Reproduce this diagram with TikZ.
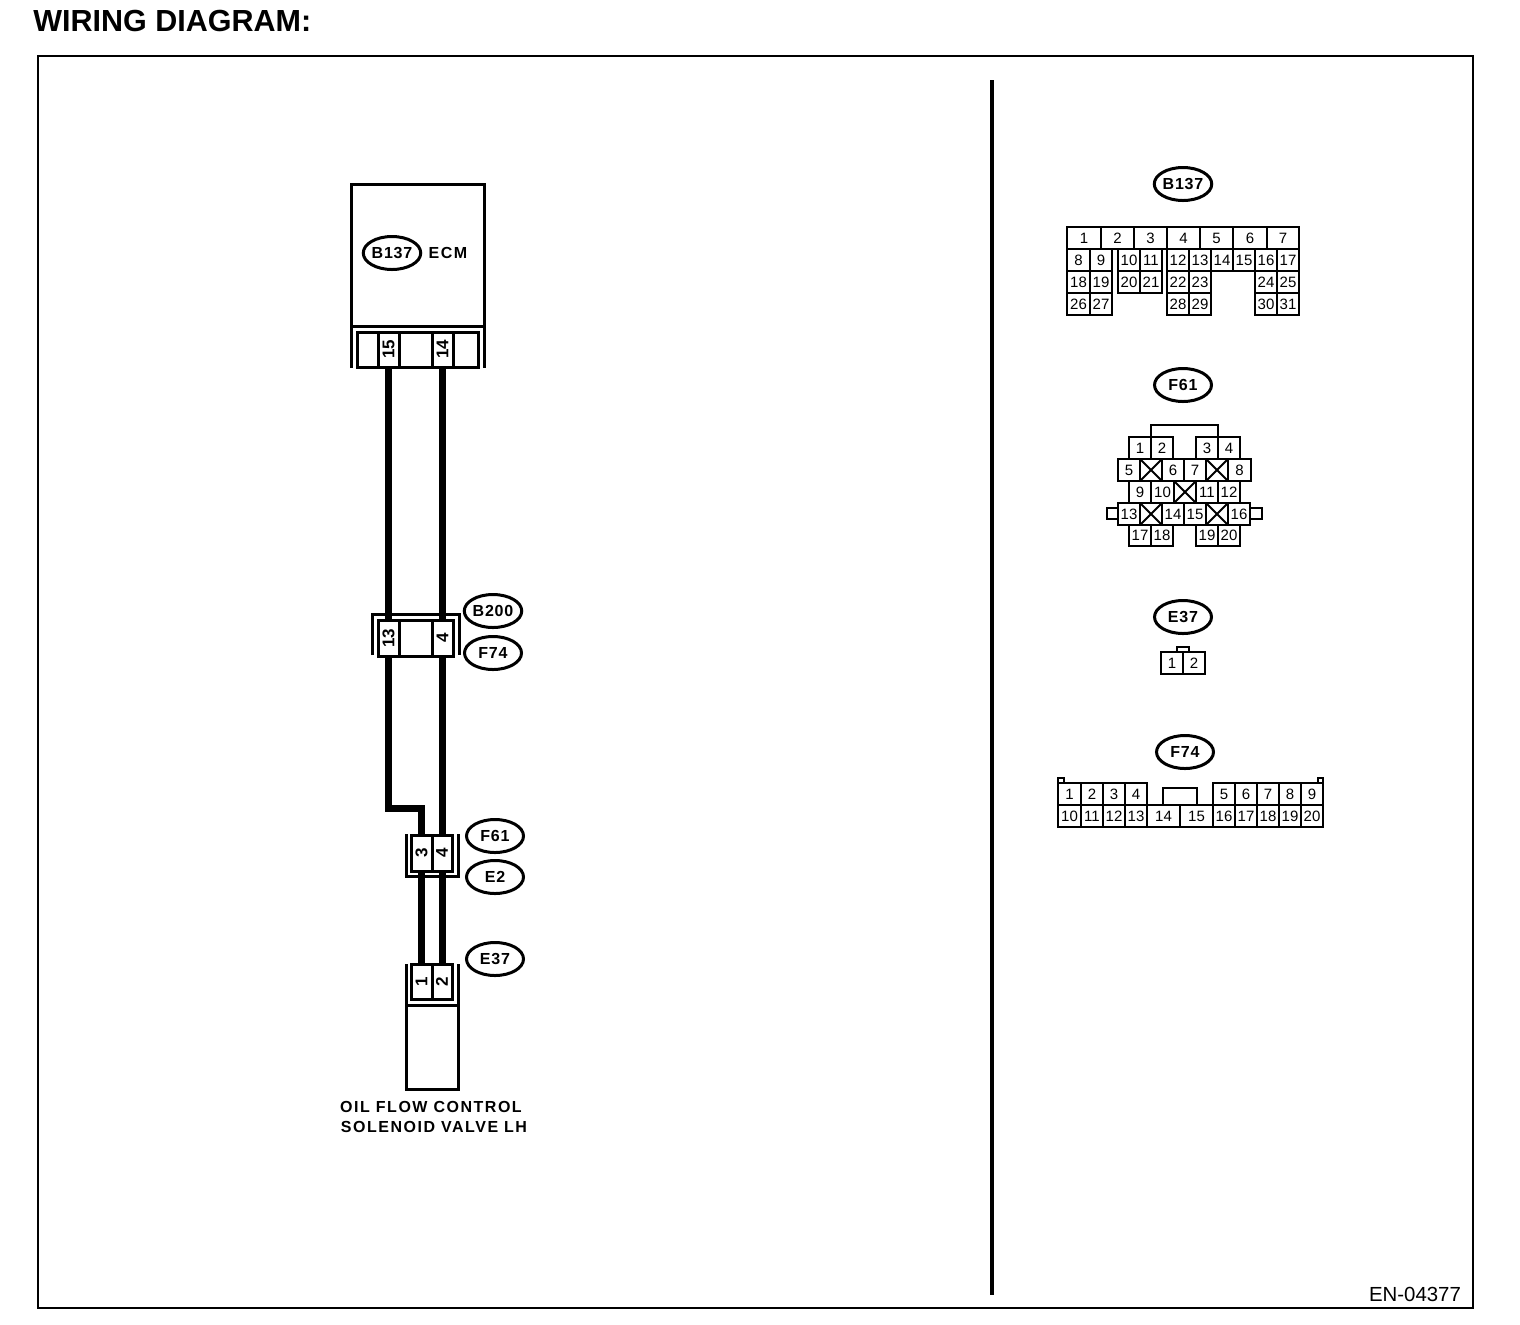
\documentclass[tikz,border=0pt]{standalone}
\usepackage{fontspec}
\usepackage{graphicx}
\setmainfont{Liberation Sans}
\newfontfamily\tagfont[LetterSpace=5]{Liberation Sans}
\newfontfamily\capfont[LetterSpace=9.5]{Liberation Sans}
\usetikzlibrary{shapes.geometric,shapes.misc}
\tikzset{
  box/.style={draw,rectangle,inner sep=0pt,outer sep=0pt,line width=1pt,fill=white,font=\fontsize{7.5}{8}\selectfont},
  heavybox/.style={box,line width=1.5pt,font=\bfseries\fontsize{8.5}{9}\selectfont},
  crossbox/.style={box,cross out},
  tag/.style={draw,ellipse,inner sep=0pt,outer sep=0pt,line width=1.5pt,minimum width=28.5pt,minimum height=16.5pt,font=\tagfont\bfseries\fontsize{8}{9}\selectfont},
  wire/.style={line width=3.5pt,line join=miter},
  rail/.style={line width=1.5pt},
  hood/.style={line width=1pt},
  caption/.style={inner sep=0pt,font=\capfont\bfseries\fontsize{8}{9}\selectfont}
}
% \cell[style]{name}{x0}{y0}{x1}{y1}{text}
\newcommand\cell[7][box]{%
  \pgfmathsetmacro\cw{(#5-#3)*0.5}%
  \pgfmathsetmacro\ch{(#6-#4)*0.5}%
  \pgfmathsetmacro\cx{(#3+#5)/2}%
  \pgfmathsetmacro\cy{(#4+#6)/2}%
  \node[#1,minimum width=\cw pt,minimum height=\ch pt] (#2) at (\cx,\cy) {#7};%
}
\newcommand\vnum[1]{\rotatebox{90}{#1}}
\begin{document}
\begin{tikzpicture}[x=0.5pt,y=-0.5pt]
\useasboundingbox (0,0) rectangle (1520,1324);
\node[anchor=base west,inner sep=0pt,font=\bfseries\fontsize{15.25}{16}\selectfont] (title) at (33,31) {WIRING DIAGRAM:};
\cell[draw,rectangle,line width=1pt,inner sep=0pt,outer sep=0pt]{frame}{38}{56}{1473}{1308}{}
\coordinate (divtop) at (992,80);
\coordinate (divbot) at (992,1295);
\draw[line width=2pt] (divtop) -- (divbot);
\node[inner sep=0pt,font=\fontsize{10.2}{11}\selectfont] (code) at (1415,1294) {EN-04377};

% --- ECM
\cell[box,line width=1.5pt]{ecm}{351}{184}{484}{326}{}
\draw[rail] (ecm.south west) -- ++(0,42);
\draw[rail] (ecm.south east) -- ++(0,42);
\cell[heavybox]{ecma}{357}{332}{378}{367}{}
\cell[heavybox]{ecm15}{378}{332}{399}{367}{\vnum{15}}
\cell[heavybox]{ecmb}{399}{332}{432}{367}{}
\cell[heavybox]{ecm14}{432}{332}{453}{367}{\vnum{14}}
\cell[heavybox]{ecmc}{453}{332}{478}{367}{}
\node[tag] (tagecm) at (392,253) {B137};
\node[caption] (ecmtext) at (448,253) {ECM};

% --- B200 / F74
\cell[box,draw=none]{b200o}{372}{614}{459}{655}{}
\draw[rail] (b200o.south west) -- (b200o.north west) -- (b200o.north east) -- (b200o.south east);
\cell[heavybox]{b13}{378}{620}{399}{656}{\vnum{13}}
\cell[heavybox]{bm}{399}{620}{432}{656}{}
\cell[heavybox]{b4}{432}{620}{453}{656}{\vnum{4}}
\node[tag] (tagb200) at (493,611) {B200};
\node[tag] (tagf74) at (493,653) {F74};

% --- F61 / E2
\cell[box,draw=none]{f61o}{406}{834}{458}{876}{}
\draw[rail] (f61o.north west) -- (f61o.south west) -- (f61o.south east) -- (f61o.north east);
\cell[heavybox]{f3}{411}{835}{432}{871}{\vnum{3}}
\cell[heavybox]{f4}{432}{835}{452}{871}{\vnum{4}}
\node[tag] (tagf61) at (495,836) {F61};
\node[tag] (tage2) at (495,877) {E2};

% --- E37 and solenoid
\cell[box,line width=1.5pt]{sol}{406}{1005}{458}{1089}{}
\draw[rail] (sol.north west) -- ++(0,-41);
\draw[rail] (sol.north east) -- ++(0,-41);
\cell[heavybox]{e1}{411}{964}{432}{999}{\vnum{1}}
\cell[heavybox]{e2}{432}{964}{452}{999}{\vnum{2}}
\node[tag] (tage37) at (495,959) {E37};
\node[caption] (cap1) at (431,1107) {OIL FLOW CONTROL};
\node[caption] (cap2) at (434,1127) {SOLENOID VALVE LH};

% --- wires
\coordinate (wbend) at (389,808.5);
\draw[wire] (ecm15.south) -- (b13.north);
\draw[wire,xshift=-0.5pt] (ecm14.south) -- (b4.north);
\draw[wire] (b13.south) |- (wbend) -| (f3.north);
\draw[wire,xshift=-0.5pt] (b4.south) -- (b4.south |- f4.north);
\draw[wire] (f3.south) -- (e1.north);
\draw[wire] (f4.south) -- (e2.north);

% --- connector face B137
\node[tag] (rb137) at (1183,184) {B137};
\foreach \n/\a/\b in {1/1067/1101,2/1101/1134,3/1134/1167,4/1167/1200,5/1200/1233,6/1233/1267,7/1267/1299}
  {\cell{rb\n}{\a}{227}{\b}{249}{\n}}
\foreach \n/\a/\b in {8/1067/1090,9/1090/1112,10/1118/1140,11/1140/1162,12/1167/1189,13/1189/1211,14/1211/1233,15/1233/1255,16/1255/1277,17/1277/1299}
  {\cell{rb\n}{\a}{249}{\b}{271}{\n}}
\foreach \n/\a/\b in {18/1067/1090,19/1090/1112,20/1118/1140,21/1140/1162,22/1167/1189,23/1189/1211,24/1255/1277,25/1277/1299}
  {\cell{rb\n}{\a}{271}{\b}{293}{\n}}
\foreach \n/\a/\b in {26/1067/1090,27/1090/1112,28/1167/1189,29/1189/1211,30/1255/1277,31/1277/1299}
  {\cell{rb\n}{\a}{293}{\b}{315}{\n}}

% --- connector face F61
\node[tag] (rf61) at (1183,385) {F61};
\foreach \n/\a/\b in {1/1129/1151,2/1151/1173,3/1196/1218,4/1218/1240}
  {\cell{rf\n}{\a}{437}{\b}{459}{\n}}
\coordinate (rfhoodl) at (1151,425);
\coordinate (rfhoodr) at (1218,425);
\draw[hood] (rf2.north west) -- (rfhoodl) -- (rfhoodr) -- (rf3.north east);
\foreach \n/\a/\b in {5/1118/1140,6/1162/1184,7/1184/1206,8/1228/1251}
  {\cell{rf\n}{\a}{459}{\b}{481}{\n}}
\cell[crossbox]{rfxa}{1140}{459}{1162}{481}{}
\cell[crossbox]{rfxb}{1206}{459}{1228}{481}{}
\foreach \n/\a/\b in {9/1129/1151,10/1151/1174,11/1196/1218,12/1218/1240}
  {\cell{rf\n}{\a}{481}{\b}{503}{\n}}
\cell[crossbox]{rfxc}{1174}{481}{1196}{503}{}
\cell{rftabl}{1107}{508}{1118}{519}{}
\cell{rftabr}{1250}{508}{1262}{519}{}
\foreach \n/\a/\b in {13/1118/1140,14/1162/1184,15/1184/1206,16/1228/1250}
  {\cell{rf\n}{\a}{503}{\b}{525}{\n}}
\cell[crossbox]{rfxd}{1140}{503}{1162}{525}{}
\cell[crossbox]{rfxe}{1206}{503}{1228}{525}{}
\foreach \n/\a/\b in {17/1129/1151,18/1151/1173,19/1196/1218,20/1218/1240}
  {\cell{rf\n}{\a}{525}{\b}{546}{\n}}

% --- connector face E37
\node[tag] (re37) at (1183,617) {E37};
\cell{retab}{1177}{647}{1189}{652}{}
\cell{re1}{1161}{652}{1183}{674}{1}
\cell{re2}{1183}{652}{1205}{674}{2}

% --- connector face F74
\node[tag] (rf74) at (1185,752) {F74};
\cell{rgtabl}{1058}{778}{1064}{783}{}
\cell{rgtabr}{1318}{778}{1323}{783}{}
\foreach \n/\a/\b in {1/1058/1081,2/1081/1103,3/1103/1125,4/1125/1147,5/1213/1235,6/1235/1257,7/1257/1279,8/1279/1301,9/1301/1323}
  {\cell{rg\n}{\a}{783}{\b}{805}{\n}}
\cell{rgkey}{1163}{788}{1197}{805}{}
\foreach \n/\a/\b in {10/1058/1081,11/1081/1103,12/1103/1125,13/1125/1147,14/1147/1180,15/1180/1213,16/1213/1235,17/1235/1257,18/1257/1279,19/1279/1301,20/1301/1323}
  {\cell{rg\n}{\a}{805}{\b}{827}{\n}}
\end{tikzpicture}
\end{document}
